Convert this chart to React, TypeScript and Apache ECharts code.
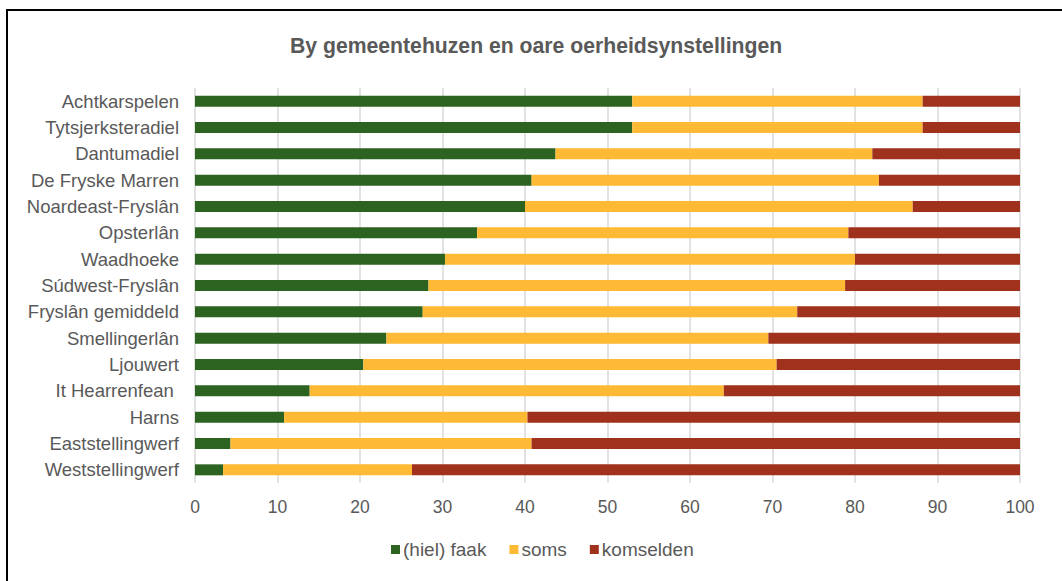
import React, { useEffect, useRef } from "react";
import * as echarts from "echarts";

const categories = [
  "Achtkarspelen",
  "Tytsjerksteradiel",
  "Dantumadiel",
  "De Fryske Marren",
  "Noardeast-Fryslân",
  "Opsterlân",
  "Waadhoeke",
  "Súdwest-Fryslân",
  "Fryslân gemiddeld",
  "Smellingerlân",
  "Ljouwert",
  "It Hearrenfean ",
  "Harns",
  "Eaststellingwerf",
  "Weststellingwerf",
];

const faak = [53.0, 53.0, 43.7, 40.8, 40.0, 34.2, 30.3, 28.3, 27.6, 23.2, 20.4, 13.9, 10.8, 4.3, 3.4];
const soms = [35.2, 35.2, 38.4, 42.1, 47.0, 45.0, 49.7, 50.5, 45.4, 46.3, 50.1, 50.2, 29.5, 36.5, 22.9];
const komselden = [11.8, 11.8, 17.9, 17.1, 13.0, 20.8, 20.0, 21.2, 27.0, 30.5, 29.5, 35.9, 59.7, 59.2, 73.7];

const seriesNames = ["(hiel) faak", "soms", "komselden"];
const colors = ["#2D6320", "#FFBA35", "#A0311C"];
const xTicks = { min: 0, max: 100, interval: 10 };

const FONT = "Liberation Sans, Arial, sans-serif";

export default function App() {
  const ref = useRef<HTMLDivElement>(null);
  useEffect(() => {
    if (!ref.current) return;
    const chart = echarts.init(ref.current, null, { renderer: "svg" });
    const data = [faak, soms, komselden];
    chart.setOption({
      animation: false,
      backgroundColor: "#ffffff",
      textStyle: { fontFamily: FONT },
      title: {
        text: "By gemeentehuzen en oare oerheidsynstellingen",
        left: 285,
        top: 30,
        textStyle: {
          fontFamily: FONT,
          fontSize: 21.2,
          fontWeight: "bold",
          color: "#595959",
        },
      },
      graphic: [
        {
          type: "rect",
          shape: { x: 7, y: 10, width: 1100, height: 620 },
          style: { fill: "none", stroke: "#000000", lineWidth: 2 },
          silent: true,
        },
      ],
      legend: {
        data: seriesNames,
        bottom: 17,
        left: 386,
        itemWidth: 9,
        itemHeight: 9,
        itemGap: 23,
        icon: "rect",
        textStyle: {
          fontFamily: FONT,
          fontSize: 19,
          color: "#595959",
          padding: [0, 0, 0, -2],
        },
      },
      grid: { left: 195, right: 42, top: 88, bottom: 98, containLabel: false },
      xAxis: {
        type: "value",
        min: xTicks.min,
        max: xTicks.max,
        interval: xTicks.interval,
        axisLine: { show: false },
        axisTick: { show: false },
        splitLine: { show: true, lineStyle: { color: "#D9D9D9", width: 1.5 } },
        axisLabel: {
          fontFamily: FONT,
          fontSize: 17.5,
          color: "#595959",
          margin: 15,
        },
      },
      yAxis: {
        type: "category",
        data: categories,
        inverse: true,
        axisLine: { show: false },
        axisTick: { show: false },
        axisLabel: {
          fontFamily: FONT,
          fontSize: 18.5,
          color: "#595959",
          margin: 16,
        },
      },
      series: seriesNames.map((name, i) => ({
        name,
        type: "bar",
        stack: "total",
        barWidth: 11,
        itemStyle: { color: colors[i] },
        data: data[i],
      })),
    });
    return () => chart.dispose();
  }, []);
  return (
    <div
      ref={ref}
      style={{ position: "absolute", left: 0, top: 0, width: 1062, height: 581 }}
    />
  );
}
